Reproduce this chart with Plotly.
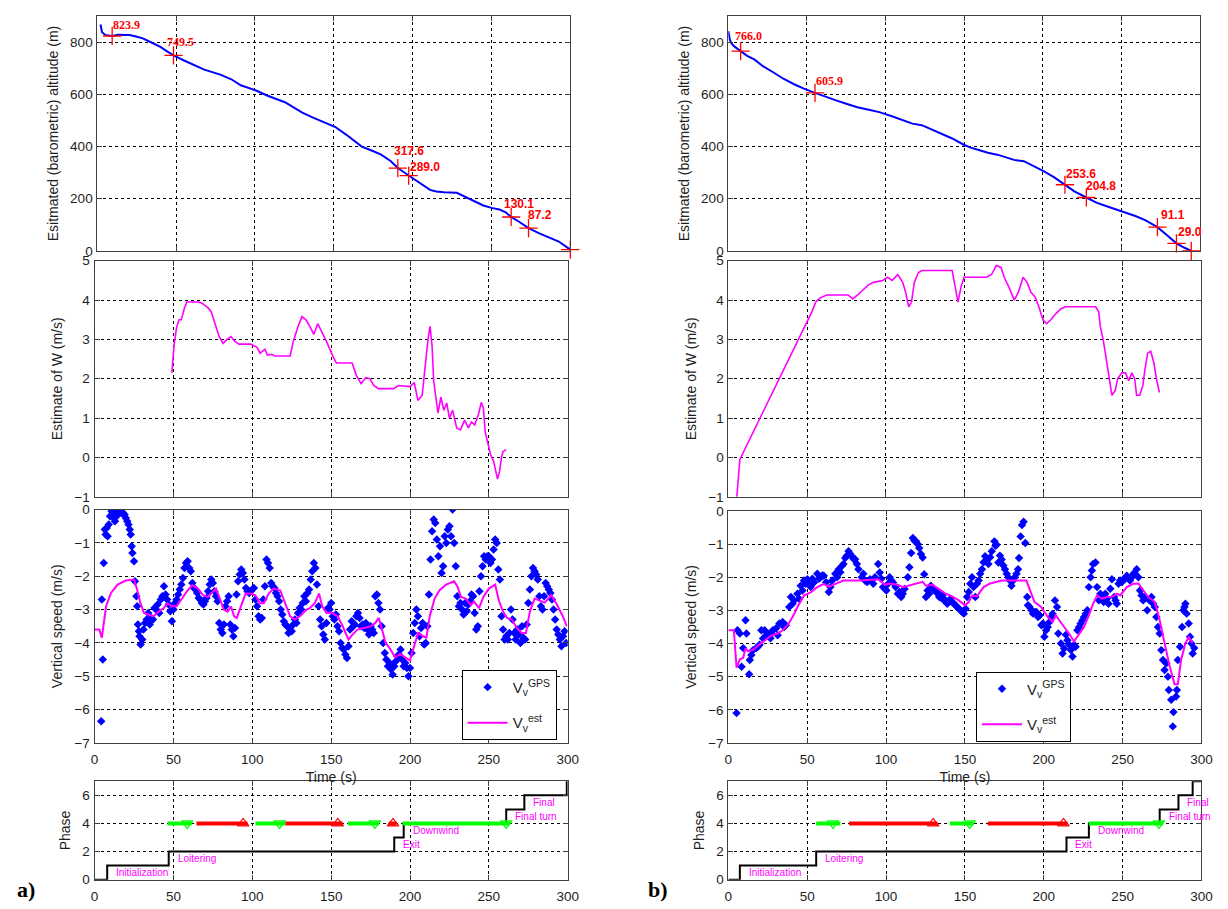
import plotly.graph_objects as go

# ======================= DATA : panel a) =======================
alt_a_t = [2, 2.5, 3, 5, 9.4, 13, 18, 20.4, 24.6, 28.8, 35, 40, 44, 48.3, 55, 60, 67.8, 78, 85, 91,
           96, 101, 108, 114, 119, 125, 130, 136.5, 143, 151, 158, 163, 167.7, 174, 180, 186, 190.6, 197.5, 201, 206,
           211, 215, 219.8, 228, 232, 236.4, 240, 244.8, 250, 255, 259, 262.5, 268, 273.5, 280, 286, 292.7, 300]
alt_a_h = [868, 852, 838, 828, 824, 829, 830, 828, 822, 815, 797, 782, 766, 749.5, 730, 717, 695, 676, 658, 635,
           625, 614, 595, 582, 570, 548, 530, 512, 495, 475, 445, 420, 400, 385, 369, 345, 317.6, 289.0, 275, 255,
           234, 228, 225, 223, 212, 200, 190, 174, 165, 159, 148, 130.1, 110, 87.2, 68, 52, 36, 5]
mark_a_t = [9.4, 48.3, 190.6, 197.5, 262.5, 273.5]
mark_a_h = [823.9, 749.5, 317.6, 289.0, 130.1, 87.2]
end_a_t = [300]
end_a_h = [5]

w_a_t = [49, 50.5, 52, 53.5, 55, 57, 58.5, 62, 66, 68, 70, 72, 74, 76, 79, 81.5, 84, 86.5, 89, 91.5,
         96, 99, 103, 105, 108, 109.6, 112, 114.6, 120, 124, 126, 129, 131.5, 134, 136.5, 139, 141.5, 144, 147, 151,
         153.3, 163.3, 166, 169, 172, 174.6, 177, 180, 189.6, 192.7, 200, 202.7, 205, 207.7, 209.6, 211.4, 212.7, 214, 215, 216.4,
         217.7, 219.6, 221.4, 223.3, 225, 227, 229.6, 232, 234.6, 237, 239, 241, 243.3, 245.2, 246.5, 247.7, 249.6, 251, 253, 254.3,
         255.5, 256.8, 258, 259, 261]
w_a_v = [2.15, 2.9, 3.3, 3.5, 3.5, 3.8, 3.95, 3.95, 3.95, 3.92, 3.85, 3.8, 3.7, 3.45, 3.07, 2.9, 3.0, 3.07, 2.95, 2.88,
         2.88, 2.88, 2.8, 2.65, 2.75, 2.6, 2.62, 2.58, 2.58, 2.58, 2.95, 3.33, 3.58, 3.5, 3.33, 3.13, 3.4, 3.2, 2.95, 2.58,
         2.4, 2.4, 2.08, 1.88, 2.03, 2.0, 1.83, 1.75, 1.75, 1.83, 1.8, 1.9, 1.45, 1.58, 2.33, 3.0, 3.33, 2.83, 1.95, 1.5,
         1.13, 1.53, 1.2, 1.38, 1.0, 1.2, 0.75, 0.7, 0.95, 0.75, 0.9, 0.83, 1.08, 1.4, 1.25, 0.65, 0.33, 0.08, -0.1, -0.3,
         -0.55, -0.35, 0.0, 0.15, 0.2]

gps_a_t = [4.2, 4.6, 5.2, 5.8, 6.5, 7, 7.7, 8.3, 9, 9.8, 10.8, 11.5, 12.1, 12.9, 14, 15, 16, 17, 18, 19,
           19.8, 20.7, 21.5, 22.3, 22.9, 23.5, 24, 25, 25.6, 26.5, 27, 27.5, 28.1, 28.5, 29.2, 30.2,
           31, 32, 33, 34, 35, 36, 37, 38, 39, 40, 41, 42, 43, 44, 45, 46, 47, 48, 49, 50,
           51, 52, 53, 54, 55, 56, 57, 58, 59, 60, 61, 62, 63, 64, 65, 66, 67, 68, 69, 70,
           71, 72, 73, 74, 75, 76, 77, 78, 79, 80, 81, 82, 83, 84, 85, 86, 87, 88, 89, 90,
           91, 92, 93, 94, 95, 96, 97, 98, 99, 100, 101, 102, 103, 104, 105, 106, 107, 108, 109, 110,
           111, 112, 113, 114, 115, 116, 117, 118, 119, 120, 121, 122, 123, 124, 125, 126, 127, 128, 129, 130,
           131, 132, 133, 134, 135, 136, 137, 138, 139, 140, 141, 142, 143, 144, 145, 146, 147, 148, 149, 150,
           151, 152, 153, 154, 155, 156, 157, 158, 159, 160, 161, 162, 163, 164, 165, 166, 167, 168, 169, 170,
           171, 172, 173, 174, 175, 176, 177, 178, 179, 180, 181, 182, 183, 184, 185, 186, 187, 188, 189, 190,
           191, 192, 193, 194, 195, 196, 197, 198, 199, 200, 201, 202, 203, 204, 205, 206, 207, 208, 209, 210,
           211, 212, 213, 214, 215, 216, 217, 218, 219, 220, 221, 222, 223, 224, 225, 226, 227, 228, 229, 230,
           231, 232, 233, 234, 235, 236, 237, 238, 239, 240, 241, 242, 243, 244, 245, 246, 247, 248, 249, 250,
           251, 252, 253, 254, 255, 256, 257, 258, 259, 260, 261, 262, 263, 264, 265, 266, 267, 268, 269, 270,
           271, 272, 273, 274, 275, 276, 277, 278, 279, 280, 281, 282, 283, 284, 285, 286, 287, 288, 289, 290,
           291, 292, 293, 294, 295, 296, 297, 298, 299]
gps_a_v = [-6.35, -2.7, -4.5, -1.6, -0.6, -0.75, -0.55, -0.8, -0.45, -0.2, -0.05, -0.1, -0.25, -0.35, -0.2, -0.05, -0.05, -0.1, -0.1, -0.15,
           -0.25, -0.35, -0.45, -0.6, -0.75, -1.1, -1.3, -1.55, -2.15, -2.6, -2.9, -3.45, -3.65, -3.8, -4.05, -3.9,
           -3.6, -3.4, -3.3, -3.1, -3.45, -3.25, -3.3, -2.95, -3.0, -2.85,
           -3.1, -2.7, -2.6, -2.3, -2.55, -2.7, -2.85, -3.05, -3.35, -3.0,
           -2.8, -2.7, -2.55, -2.4, -2.25, -2.05, -1.75, -1.6, -1.55, -1.75,
           -1.85, -2.2, -2.35, -2.4, -2.5, -2.65, -2.7, -2.8, -2.85, -2.75,
           -2.65, -2.45, -2.25, -2.1, -2.2, -2.45, -2.6, -2.75, -3.4, -3.6,
           -3.7, -3.45, -2.9, -2.75, -2.6, -3.45, -3.6, -3.8, -3.55, -2.55,
           -2.15, -1.95, -1.8, -1.9, -2.1, -2.35, -2.45, -2.5, -2.45, -2.4,
           -2.35, -2.7, -2.9, -3.2, -3.3, -3.25, -2.7, -2.3, -1.5, -1.6,
           -1.75, -2.2, -2.3, -2.35, -2.5, -2.6, -2.75, -3.0, -3.15, -3.35,
           -3.45, -3.5, -3.7, -3.6, -3.65, -3.45, -3.3, -3.4, -3.1, -2.95,
           -3.0, -2.8, -2.6, -2.75, -2.5, -2.4, -2.1, -1.85, -1.6, -1.75,
           -2.25, -2.9, -3.3, -3.5, -3.75, -3.9, -3.4, -2.95, -3.0, -2.8,
           -3.2, -3.3, -3.15, -3.5, -3.65, -4.0, -4.15, -4.2, -4.35, -4.45,
           -4.1, -3.6, -3.35, -3.5, -3.45, -3.2, -3.1, -3.25, -3.5, -3.45,
           -3.55, -3.4, -3.6, -3.75, -3.5, -3.6, -3.7, -2.6, -2.55, -2.8,
           -3.0, -3.5, -4.0, -4.3, -4.5, -4.7, -4.6, -4.8, -4.95, -4.7,
           -4.55, -4.4, -4.35, -4.2, -4.5, -4.7, -4.6, -4.75, -5.0, -4.75,
           -4.3, -3.7, -3.4, -3.0, -3.2, -3.8, -3.55, -3.4, -4.05, -4.0,
           -3.5, -2.55, -1.5, -0.65, -0.3, -0.4, -0.9, -1.4, -1.1, -1.9,
           -1.7, -0.8, -1.0, -0.6, -0.5, -0.8, 0.0, -1.0, -1.7, -2.6,
           -2.9, -2.8, -3.0, -3.15, -2.8, -3.05, -2.85, -2.75, -2.55, -2.6,
           -3.1, -3.6, -3.5, -2.45, -2.0, -1.7, -1.4, -1.5, -1.4, -1.4,
           -1.6, -1.5, -1.2, -0.9, -1.0, -1.8, -2.1, -3.2, -3.6, -3.9,
           -3.8, -3.9, -3.7, -3.0, -3.3, -3.7, -3.9, -3.6, -3.75, -4.0,
           -3.5, -3.85, -3.9, -3.45, -2.8, -2.4, -2.0, -1.75, -1.85, -1.95,
           -2.1, -2.6, -2.9, -3.0, -2.6, -2.2, -2.3, -2.4, -2.5, -2.7,
           -3.0, -3.3, -3.6, -3.75, -3.9, -4.1, -3.8, -3.65, -4.0]

est_a_t = [0, 3, 4.6, 7.3, 10.4, 14.6, 19.8, 25, 27, 29, 31.3, 34.4, 37.5, 40.6, 43.75, 46.3, 49, 52, 55.2, 58.3,
           61.9, 65.6, 68.75, 71.9, 75, 77, 79, 81.9, 84.4, 86.5, 88.5, 90.2, 92.7, 95.8, 99, 102, 104.8, 107.3, 110.4, 113.5,
           117.7, 120.8, 124, 127, 130.2, 134.4, 136.5, 139.6, 142.3, 144.4, 147, 150, 154.2, 157.3, 161, 163.5, 166.7, 170.8, 175, 178,
           180.2, 182.3, 184.4, 187.5, 190.6, 193.75, 196.9, 200, 202, 205.2, 208.3, 210.4, 212.5, 215.6, 218.75, 222.9, 228, 230.2, 232.3, 235.4,
           238.5, 240.6, 243.75, 246.5, 250, 254, 256.25, 259, 261.5, 264.6, 267.7, 270.8, 273.5, 276, 279, 282.3, 285.4, 289.6, 292.7, 296.9,
           299.4]
est_a_v = [-3.6, -3.6, -3.84, -2.9, -2.5, -2.25, -2.13, -2.1, -2.4, -2.8, -3.1, -3.15, -3.2, -3.06, -2.96, -2.81, -2.9, -2.9, -2.67, -2.47,
           -2.27, -2.37, -2.57, -2.62, -2.47, -2.37, -2.62, -3.0, -3.06, -2.91, -3.2, -3.25, -2.91, -2.52, -2.52, -2.57, -2.81, -2.81, -2.52, -2.37,
           -2.42, -2.81, -3.2, -3.3, -3.2, -3.0, -2.96, -2.81, -2.52, -2.91, -3.1, -3.09, -3.2, -3.5, -3.9, -3.75, -3.6, -3.55, -3.5, -3.4,
           -3.25, -3.6, -3.99, -4.19, -4.43, -4.33, -4.43, -4.53, -4.19, -3.7, -3.8, -3.84, -3.2, -2.67, -2.42, -2.25, -2.15, -2.32, -2.62, -2.67,
           -2.86, -2.76, -2.96, -2.62, -2.37, -2.25, -2.72, -3.06, -3.25, -3.3, -3.55, -3.7, -3.7, -3.06, -2.67, -2.72, -2.79, -2.57, -2.81, -3.2,
           -3.5]

phase_a_t = [0, 8, 47, 190, 196, 261, 272.5, 299.4, 300]
phase_a_v = [0, 1, 2, 3, 4, 5, 6, 7, 7]
green_a_start = [46.3, 102, 160.6, 195.2]
green_a_end = [61.6, 121, 180.2, 263.5]
red_a_start = [64.6, 121, 186.5]
red_a_end = [96.9, 157.3, 191.5]
green_mark_a = [58.7, 117.3, 177.7, 261]
red_mark_a = [94.2, 154.2, 189.2]

# ======================= DATA : panel b) =======================
alt_b_t = [0, 0.5, 1, 2, 4, 7.8, 12, 16.7, 22, 29, 35, 41.8, 48, 55.1, 62, 68, 75, 82, 90, 96,
           104, 110.6, 117, 123, 129, 135.6, 142, 149.7, 154, 158.7, 165, 171, 176, 181.6, 187.9, 194, 200.4, 207, 214, 220,
           227.6, 234, 241, 248.4, 254, 258.8, 265, 272.8, 278, 284.9, 290, 294.3]
alt_b_h = [842, 825, 809, 795, 783, 766.0, 748, 733, 708, 683, 660, 639, 622, 605.9, 590, 578, 564, 551, 540, 532,
           516, 501, 488, 482, 466, 451, 432, 407, 396, 388, 376, 369, 359, 349, 344, 326, 306, 283, 253.6, 228,
           204.8, 185, 170, 155, 143, 134, 118, 91.1, 65, 29.0, 12, 0]
mark_b_t = [7.8, 55.1, 214, 227.6, 272.8, 284.9]
mark_b_h = [766.0, 605.9, 253.6, 204.8, 91.1, 29.0]
end_b_t = [294.3]
end_b_h = [0]

w_b_t = [5.4, 7.3, 53, 55.5, 58, 62.4, 76, 79, 82, 85.5, 88.7, 92, 98, 101, 104, 107.5, 110.6, 112.5, 114.4, 116.2,
         118, 120.6, 123, 142, 143.8, 145.7, 147.6, 149.5, 163.8, 167, 170, 173, 175, 178, 181.4, 184, 187, 189.5, 192, 194.6,
         197, 199.6, 202, 204.6, 207.7, 211, 214, 233, 235, 236, 238, 240, 241.6, 243.4, 245.4, 247, 249.7, 252, 254, 256,
         257.8, 259, 261, 263, 264, 266, 268, 270, 271.6, 273.5]
w_b_v = [-1, -0.05, 3.7, 3.95, 4.05, 4.13, 4.13, 4.03, 4.13, 4.25, 4.38, 4.45, 4.5, 4.58, 4.5, 4.65, 4.45, 4.2, 3.83, 3.95,
         4.45, 4.7, 4.75, 4.75, 4.33, 3.95, 4.33, 4.58, 4.58, 4.65, 4.88, 4.83, 4.58, 4.33, 4.0, 4.2, 4.58, 4.45, 4.2, 4.08,
         3.83, 3.5, 3.4, 3.5, 3.65, 3.78, 3.83, 3.83, 3.7, 3.33, 2.95, 2.45, 1.95, 1.58, 1.7, 2.0, 2.15, 2.15, 1.95, 2.15,
         2.0, 1.58, 1.58, 1.83, 2.15, 2.65, 2.7, 2.4, 2.0, 1.65]

gps_b_t = [5.2, 5.8, 7.3, 8.4, 9.4, 10.9, 11.5, 13.2, 13.6, 15.7,
           17.7, 19.8, 20.9, 23, 25, 26.7, 28.2, 30.3, 32.4, 34.4,
           36.5, 38.6, 39.7, 41.75, 43.8, 45.9, 48, 50.1, 52.2, 54.3,
           56.4, 58.5, 60.5, 63.7, 65.8, 67.8, 70, 72, 74.1, 76.2,
           78.3, 80.4, 82.5, 84.6, 86.6, 89.8, 91.9, 95, 96, 98.1,
           100.2, 102.3, 104.4, 107.5, 109.6, 111.7, 113.8, 115.9, 117, 119,
           121, 123.2, 124.2, 125.3, 126.3, 128.4, 130.5, 132.6, 134.7, 136.7,
           138.8, 140.9, 143, 145.1, 147.2, 149.3, 151.4, 153.4, 154.5, 156.6,
           158.7, 160.8, 162.8, 164.9, 167, 168.7, 170.1, 171.2, 173.3, 175.4,
           177.5, 179.5, 181.6, 183.7, 184.3, 185.3, 186.2, 187.2, 188.3, 189.5,
           191, 193.2, 195.3, 197.4, 199.5, 200.4, 202.5, 204.6, 207.1, 208.4,
           209.2, 210.9, 211.9, 214, 216.1, 218.2, 219.2, 221.3, 223.4, 225.5,
           227.6, 228.6, 229.7, 231.3, 232.8, 233.8, 234.9, 236.9, 239, 241.1,
           243.2, 244.6, 246.3, 248.4, 250.5, 252.6, 254.7, 256.8, 258.9, 260,
           262, 264.1, 265.6, 268.3, 270.4, 271.4, 272.4, 273.5, 274.5, 275.6,
           276.6, 277.7, 278.7, 279.3, 280.8, 281.8, 282.2, 283.9, 285, 286.4,
           287.7, 288.5, 289.8, 290.6, 291.9, 292.7, 294.4, 295.4,
           14.6, 18.7, 22, 24, 27.5, 31.3, 35.4, 40.7, 44.8, 47, 49, 51.2, 53.3, 57.4, 59.5, 62, 64.7, 69, 71, 73,
           75.2, 77.3, 79.4, 81.5, 85.6, 88, 93, 97, 99.2, 101.3, 103.4, 106, 108.5, 110.6, 114.8, 118, 120, 122.1, 127.3, 129.4,
           131.6, 133.7, 135.7, 137.8, 139.9, 142, 144.1, 146.2, 148.3, 150.4, 152.4, 155.5, 157.6, 159.7, 161.8, 163.8, 166, 169.4, 172.2, 174.4,
           176.5, 178.5, 180.6, 182.7, 190, 192.2, 194.3, 196.4, 198.5, 201.5, 203.6, 205.6, 212.9, 215, 217.2, 220.2, 222.4, 224.5, 226.6, 230.5,
           235.9, 238, 240, 242.2, 245.5, 247.4, 249.5, 251.6, 253.7, 255.8, 257.9, 261, 263, 267, 269.4, 284.4, 289.2, 293.6]
gps_b_v = [-6.1, -3.6, -3.7, -4.7, -4.14, -3.3, -3.7, -4.93, -4.5, -4.2,
           -4.14, -4.04, -3.6, -3.6, -3.7, -3.84, -3.6, -3.54, -3.4, -3.35,
           -3.45, -2.9, -2.6, -2.7, -2.5, -2.26, -2.1, -2.06, -2.3, -2.16,
           -1.9, -2.0, -1.96, -2.45, -2.1, -1.9, -1.76, -1.66, -1.42, -1.22,
           -1.37, -1.46, -1.76, -2.0, -2.1, -2.06, -2.2, -1.6, -1.86, -2.3,
           -2.4, -2.0, -2.16, -2.5, -2.6, -2.36, -2.0, -1.27, -0.82, -0.92,
           -1.12, -1.41, -1.91, -2.6, -2.4, -2.26, -2.36, -2.46, -2.6, -2.7,
           -2.8, -2.65, -2.8, -2.9, -3.0, -3.1, -2.6, -2.2, -2.0, -2.6,
           -2.1, -1.76, -1.37, -1.6, -1.22, -0.92, -1.02, -1.56, -1.47, -1.76,
           -2.0, -2.26, -2.0, -1.76, -1.42, -0.77, -0.43, -0.33, -0.97, -2.6,
           -2.9, -3.1, -3.05, -3.15, -3.4, -3.8, -3.5, -3.2, -2.7, -2.9,
           -3.7, -4.0, -4.3, -3.74, -4.04, -4.39, -4.04, -3.6, -3.4, -3.2,
           -3.0, -2.3, -2.0, -1.6, -1.56, -2.3, -2.7, -2.6, -2.5, -2.8,
           -2.06, -2.6, -2.8, -2.1, -2.06, -1.96, -2.1, -1.9, -1.76, -2.0,
           -2.55, -2.6, -3.0, -2.6, -2.9, -3.2, -3.5, -3.7, -4.2, -4.5,
           -4.8, -4.6, -5.0, -5.4, -5.7, -6.5, -6.07, -5.6, -4.5, -4.1,
           -3.5, -3.0, -2.8, -3.1, -3.4, -3.8, -4.3, -4.14,
           -4.35, -4.1, -3.85, -3.75, -3.7, -3.75, -3.5, -2.8, -2.65, -2.4, -2.2, -2.2, -2.05, -2.05, -1.95, -2.15, -2.3, -2.0, -1.85, -1.6,
           -1.35, -1.3, -1.45, -1.6, -1.9, -2.15, -2.0, -2.05, -2.35, -2.2, -2.1, -2.3, -2.45, -2.5, -1.7, -0.9, -1.0, -1.3, -2.5, -2.35,
           -2.45, -2.6, -2.55, -2.7, -2.75, -2.75, -2.85, -2.95, -3.05, -2.95, -2.45, -2.3, -2.2, -1.9, -1.55, -1.5, -1.4, -1.05, -1.35, -1.65,
           -1.9, -2.1, -2.1, -1.9, -2.85, -3.0, -3.05, -3.2, -3.45, -3.6, -3.35, -3.1, -4.15, -3.9, -4.2, -4.1, -3.5, -3.3, -3.1, -1.8,
           -2.5, -2.75, -2.65, -2.35, -2.7, -2.2, -2.15, -2.05, -2.05, -2.0, -1.9, -2.4, -2.7, -2.7, -2.8, -5.4, -2.9, -4.0]

est_b_t = [0, 3.5, 5.2, 7.3, 9.4, 11, 12.5, 15.7, 20.9, 27, 31.3, 34.4, 37.6, 40.7, 43.8, 48, 52.2, 56.4, 60.5, 63.7,
           67.8, 73, 83.5, 89.8, 95, 97, 99.2, 102.3, 107.5, 110.6, 117, 123.2, 125.3, 129.4, 133.6, 137.8, 141.9, 146.1, 150.2, 152.4,
           154.5, 157.6, 161.8, 166, 173.3, 181.6, 189, 191, 194.2, 198.3, 202.5, 205.6, 207.7, 209.8, 213, 216, 219.2, 222.3, 225.5, 228.6,
           231.3, 233.8, 236.9, 240.1, 243.2, 246.4, 248.5, 252.6, 256.8, 260, 263, 266.2, 270.4, 273.5, 276.6, 279.8, 282.9, 285, 287.1, 289.8,
           291.9, 294.4]
est_b_v = [-3.6, -3.6, -4.73, -4.48, -4.43, -4.14, -4.24, -4.19, -3.99, -3.77, -3.7, -3.6, -3.45, -3.2, -2.9, -2.55, -2.46, -2.3, -2.2, -2.29,
           -2.2, -2.1, -2.1, -2.07, -2.06, -2.14, -2.23, -2.19, -2.23, -2.3, -2.23, -2.14, -2.26, -2.23, -2.36, -2.5, -2.58, -2.7, -2.85, -2.75,
           -2.55, -2.58, -2.3, -2.19, -2.1, -2.09, -2.1, -2.36, -2.75, -2.9, -3.2, -3.35, -3.15, -3.3, -3.5, -3.7, -3.94, -3.74, -3.5, -3.15,
           -2.8, -2.55, -2.65, -2.6, -2.6, -2.5, -2.55, -2.3, -2.2, -2.19, -2.4, -2.6, -2.75, -3.3, -3.99, -4.68, -5.23, -5.23, -4.49, -3.99,
           -3.81, -3.99]

phase_b_t = [0, 7.3, 55.7, 214.4, 228.6, 273.5, 285.4, 294.4, 300]
phase_b_v = [0, 1, 2, 3, 4, 5, 6, 7, 7]
green_b_start = [55.7, 140.5, 228.6]
green_b_end = [71, 155.5, 275.6]
red_b_start = [76.6, 164.5]
red_b_end = [132.6, 215]
green_mark_b = [66.4, 153, 273]
red_mark_b = [129.9, 212.5]

phase_names = ["Initialization", "Loitering", "Exit", "Downwind", "Final turn", "Final"]
turn_level = 4
panel_tags = ["a)", "b)"]

# ======================= STYLE =======================
W_PX, H_PX = 1228, 909
FONT = "Liberation Sans, Arial, sans-serif"
SERIF = "Liberation Serif, Times New Roman, serif"
TXT = "#1e1e1e"
AXC = "#404040"
BLUE, MAG, RED, GREEN = "#0000FF", "#FF00FF", "#FF0000", "#00FF00"

def fx(a, b):
    return [a / W_PX, b / W_PX]

def fy(top, bot):
    return [1 - bot / H_PX, 1 - top / H_PX]

GEOM = {
    1: (fx(94.5, 573.3), fy(9.3, 248.0)),
    2: (fx(91.7, 570.7), fy(258.0, 498.0)),
    3: (fx(91.7, 570.7), fy(511.0, 748.3)),
    4: (fx(91.7, 570.7), fy(787.3, 887.3)),
    5: (fx(733.3, 1211.0), fy(9.3, 248.0)),
    6: (fx(733.3, 1212.0), fy(258.0, 498.0)),
    7: (fx(733.3, 1212.3), fy(512.3, 748.3)),
    8: (fx(733.3, 1212.3), fy(787.3, 887.3)),
}
YCFG = [([0, 900], 200, "Esitmated (barometric) altitude (m)"),
        ([-1, 5], 1, "Estimate of W (m/s)"),
        ([-7, 0], 1, "Vertical speed (m/s)"),
        ([0, 7], 2, "Phase")]

common = dict(showline=True, linecolor=AXC, linewidth=1, mirror="ticks", ticks="inside",
              ticklen=5, tickcolor=AXC, tickwidth=1, showgrid=True, gridcolor="black",
              gridwidth=1, griddash="3px,3px", zeroline=False, fixedrange=True,
              tickfont=dict(family=FONT, size=13.5, color=TXT))

layout_axes = {}
for n in range(1, 9):
    row = (n - 1) % 4
    xd, yd = GEOM[n]
    s = "" if n == 1 else str(n)
    rng, dt, title = YCFG[row]
    xa = dict(common, domain=xd, range=[0, 300], dtick=50, tick0=0, anchor="y" + s,
              showticklabels=row >= 2, ticklabelstandoff=4)
    if row == 2:
        xa["title"] = dict(text="Time (s)", font=dict(family=FONT, size=14, color=TXT), standoff=6)
    ya = dict(common, domain=yd, range=rng, dtick=dt, tick0=0, anchor="x" + s, ticklabelstandoff=1,
              title=dict(text=title, font=dict(family=FONT, size=14, color=TXT), standoff=8))
    layout_axes["xaxis" + s] = xa
    layout_axes["yaxis" + s] = ya

fig = go.Figure()
annotations = []

def ref(n):
    return ("x", "y") if n == 1 else ("x%d" % n, "y%d" % n)

def segs(starts, ends, level):
    xs, ys = [], []
    for a, b in zip(starts, ends):
        xs += [a, b, None]
        ys += [level, level, None]
    return xs, ys

panels = [
    dict(alt=(alt_a_t, alt_a_h), mark=(mark_a_t, mark_a_h), end=(end_a_t, end_a_h),
         lab_dx=[0, -7, -5, 0, -8, -2], lab_dy=[11, 13, 17, 9, 13, 13],
         w=(w_a_t, w_a_v), gps=(gps_a_t, gps_a_v), est=(est_a_t, est_a_v),
         ph=(phase_a_t, phase_a_v), g=(green_a_start, green_a_end), r=(red_a_start, red_a_end),
         gm=green_mark_a, rm=red_mark_a, legend="legend", base=1),
    dict(alt=(alt_b_t, alt_b_h), mark=(mark_b_t, mark_b_h), end=(end_b_t, end_b_h),
         lab_dx=[-7, 0, 0, -1, 3, 1], lab_dy=[15, 12, 11, 11, 12, 11],
         w=(w_b_t, w_b_v), gps=(gps_b_t, gps_b_v), est=(est_b_t, est_b_v),
         ph=(phase_b_t, phase_b_v), g=(green_b_start, green_b_end), r=(red_b_start, red_b_end),
         gm=green_mark_b, rm=red_mark_b, legend="legend2", base=5),
]

for p in panels:
    b = p["base"]
    # --- altitude ---
    xr, yr = ref(b)
    fig.add_trace(go.Scatter(x=p["alt"][0], y=p["alt"][1], mode="lines", line=dict(color=BLUE, width=2),
                             xaxis=xr, yaxis=yr, showlegend=False, hoverinfo="skip"))
    mx = p["mark"][0] + p["end"][0]
    my = p["mark"][1] + p["end"][1]
    fig.add_trace(go.Scatter(x=mx, y=my, mode="markers", cliponaxis=False,
                             marker=dict(symbol="cross-thin", size=13, line=dict(color=RED, width=1.3)),
                             xaxis=xr, yaxis=yr, showlegend=False, hoverinfo="skip"))
    for i, (t, h) in enumerate(zip(*p["mark"])):
        fam = SERIF if i < 2 else FONT
        annotations.append(dict(x=t, y=h, xref=xr, yref=yr, text="<b>%.1f</b>" % h, showarrow=False,
                                xanchor="left", yanchor="middle", xshift=p["lab_dx"][i], yshift=p["lab_dy"][i],
                                font=dict(family=fam, size=12, color=RED), borderpad=0))
    # --- W ---
    xr, yr = ref(b + 1)
    fig.add_trace(go.Scatter(x=p["w"][0], y=p["w"][1], mode="lines", line=dict(color=MAG, width=1.6),
                             xaxis=xr, yaxis=yr, showlegend=False, hoverinfo="skip"))
    # --- vertical speed ---
    xr, yr = ref(b + 2)
    fig.add_trace(go.Scatter(x=p["gps"][0], y=p["gps"][1], mode="markers",
                             marker=dict(symbol="diamond", size=6.5, color=BLUE, line=dict(width=0)),
                             name="V<sub>v</sub><sup>GPS</sup>", legend=p["legend"], legendgroup="gps",
                             xaxis=xr, yaxis=yr, hoverinfo="skip"))
    fig.add_trace(go.Scatter(x=p["est"][0], y=p["est"][1], mode="lines", line=dict(color=MAG, width=2),
                             name="V<sub>v</sub><sup>est</sup>", legend=p["legend"], legendgroup="est",
                             xaxis=xr, yaxis=yr, hoverinfo="skip"))
    # --- phase ---
    xr, yr = ref(b + 3)
    fig.add_trace(go.Scatter(x=p["ph"][0], y=p["ph"][1], mode="lines", line=dict(color="black", width=2, shape="hv"),
                             xaxis=xr, yaxis=yr, showlegend=False, hoverinfo="skip"))
    gx, gy = segs(p["g"][0], p["g"][1], turn_level)
    fig.add_trace(go.Scatter(x=gx, y=gy, mode="lines", line=dict(color=GREEN, width=4),
                             xaxis=xr, yaxis=yr, showlegend=False, hoverinfo="skip"))
    rx, ry = segs(p["r"][0], p["r"][1], turn_level)
    fig.add_trace(go.Scatter(x=rx, y=ry, mode="lines", line=dict(color=RED, width=4),
                             xaxis=xr, yaxis=yr, showlegend=False, hoverinfo="skip"))
    fig.add_trace(go.Scatter(x=p["gm"], y=[turn_level] * len(p["gm"]), mode="markers",
                             marker=dict(symbol="triangle-down-open", size=10, color=GREEN, line=dict(width=1.2)),
                             xaxis=xr, yaxis=yr, showlegend=False, hoverinfo="skip"))
    fig.add_trace(go.Scatter(x=p["rm"], y=[turn_level] * len(p["rm"]), mode="markers",
                             marker=dict(symbol="triangle-up-open", size=10, color=RED, line=dict(width=1.2)),
                             xaxis=xr, yaxis=yr, showlegend=False, hoverinfo="skip"))
    for i, name in enumerate(phase_names):
        annotations.append(dict(x=p["ph"][0][i + 1], y=p["ph"][1][i + 1], xref=xr, yref=yr, text=name,
                                showarrow=False, xanchor="left", yanchor="middle", xshift=8, yshift=-7,
                                font=dict(family=FONT, size=10, color=MAG), borderpad=0))

# panel tags
for tag, xpx in zip(panel_tags, [22.5, 662.5]):
    annotations.append(dict(x=xpx / W_PX, y=1 - 897 / H_PX, xref="paper", yref="paper", text="<b>%s</b>" % tag,
                            showarrow=False, xanchor="center", yanchor="middle",
                            font=dict(family=SERIF, size=22, color="black")))

leg_common = dict(xanchor="left", yanchor="top", bordercolor="black", borderwidth=1, bgcolor="white",
                  font=dict(family=FONT, size=15, color=TXT), tracegroupgap=13, itemwidth=40,
                  traceorder="grouped")

fig.update_layout(
    width=W_PX, height=H_PX, autosize=False,
    margin=dict(l=0, r=0, t=0, b=0),
    paper_bgcolor="white", plot_bgcolor="white",
    hovermode=False,
    annotations=annotations,
    legend=dict(leg_common, x=463.3 / W_PX, y=1 - 674 / H_PX),
    legend2=dict(leg_common, x=984 / W_PX, y=1 - 675.7 / H_PX),
    **layout_axes,
)

fig.write_html("out.html")
